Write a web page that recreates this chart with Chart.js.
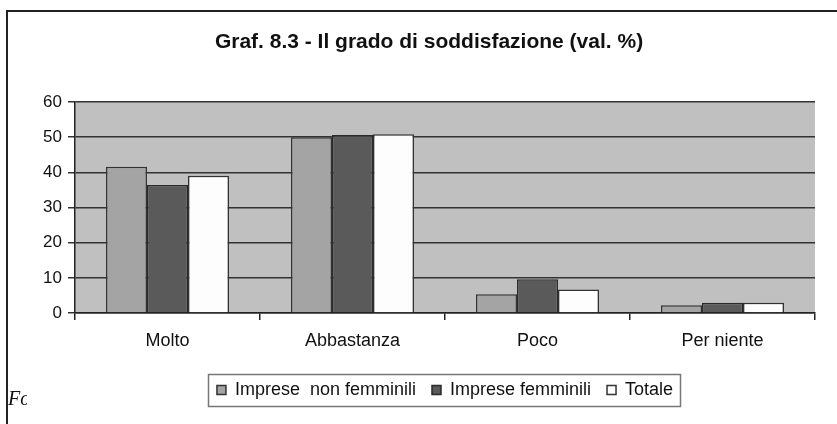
<!DOCTYPE html>
<html>
<head>
<meta charset="utf-8">
<script src="https://cdn.jsdelivr.net/npm/chart.js@4.4.1/dist/chart.umd.min.js"></script>
<style>
  html, body { margin: 0; padding: 0; background: #fff; overflow: hidden; }
  #wrap { position: relative; width: 837px; height: 424px; }
  #frame { position: absolute; left: 6px; top: 10px; width: 900px; height: 500px;
           border-left: 2px solid #222; border-top: 2px solid #222; }
  #chart { position: absolute; left: 0; top: 0; }
  #fonte { position: absolute; left: 8px; top: 387px; width: 19px; overflow: hidden;
           white-space: nowrap; font: italic 20px "Liberation Serif", serif; color: #111; }
</style>
</head>
<body>
<div id="wrap">
  <div id="frame"></div>
  <canvas id="chart" width="837" height="424"></canvas>
  <div id="fonte">Fonte: indagine</div>
</div>
<script>
// categories and values
var categories = ['Molto', 'Abbastanza', 'Poco', 'Per niente'];
var seriesNames = ['Imprese  non femminili', 'Imprese femminili', 'Totale'];
var nonFemminili = [41.6, 50.0, 5.3, 2.2];
var femminili = [36.4, 50.6, 9.6, 2.9];
var totale = [39.0, 50.8, 6.7, 2.9];
var yMax = 60;
var yStep = 10;

var FONT = "'Liberation Sans', Arial, sans-serif";

// grey plot background
var plotBg = {
  id: 'plotBg',
  beforeDraw: function(chart) {
    var a = chart.chartArea, ctx = chart.ctx;
    ctx.save();
    ctx.fillStyle = '#c0c0c0';
    ctx.fillRect(a.left, a.top, a.right - a.left, a.bottom - a.top);
    ctx.restore();
  }
};

// frame round the legend
var legendFrame = {
  id: 'legendFrame',
  afterDraw: function(chart) {
    var boxes = chart.legend.legendHitBoxes;
    if (!boxes || !boxes.length) return;
    var l = boxes[0].left, r = 0, t = boxes[0].top, b = 0;
    for (var i = 0; i < boxes.length; i++) {
      l = Math.min(l, boxes[i].left);
      r = Math.max(r, boxes[i].left + boxes[i].width);
      b = Math.max(b, boxes[i].top + boxes[i].height);
    }
    var ctx = chart.ctx;
    ctx.save();
    ctx.strokeStyle = '#777';
    ctx.lineWidth = 1.5;
    ctx.strokeRect(Math.round(l - 9) + 0.5, Math.round(t - 7) + 0.5,
                   Math.round(r - l + 16), Math.round(b - t + 14));
    ctx.restore();
  }
};

var ctx = document.getElementById('chart').getContext('2d');
new Chart(ctx, {
  type: 'bar',
  data: {
    labels: categories,
    datasets: [{
      label: seriesNames[0],
      data: nonFemminili,
      backgroundColor: '#a4a4a4',
      borderColor: '#333',
      borderWidth: 1.5
    }, {
      label: seriesNames[1],
      data: femminili,
      backgroundColor: '#5a5a5a',
      borderColor: '#2a2a2a',
      borderWidth: 1.5
    }, {
      label: seriesNames[2],
      data: totale,
      backgroundColor: '#fdfdfd',
      borderColor: '#333',
      borderWidth: 1.5
    }]
  },
  options: {
    responsive: false,
    animation: false,
    events: [],
    categoryPercentage: 0.665,
    barPercentage: 1.0,
    layout: { padding: { left: 43, right: 22, top: 30, bottom: 15 } },
    plugins: {
      title: {
        display: true,
        text: 'Graf. 8.3 - Il grado di soddisfazione (val. %)',
        color: '#111',
        font: { family: FONT, size: 21, weight: 'bold' },
        padding: { top: 0, bottom: 46.8 }
      },
      legend: {
        position: 'bottom',
        fullSize: false,
        labels: {
          color: '#111',
          font: { family: FONT, size: 18 },
          boxWidth: 9,
          boxHeight: 9,
          padding: 16
        }
      },
      tooltip: { enabled: false }
    },
    scales: {
      x: {
        grid: { drawOnChartArea: false, drawTicks: true, tickLength: 7, color: '#222', lineWidth: 1.5 },
        border: { display: true, color: '#222', width: 1.5 },
        ticks: { color: '#111', font: { family: FONT, size: 18 }, padding: 10 },
        afterFit: function(scale) { scale.height = 52; }
      },
      y: {
        min: 0,
        max: yMax,
        ticks: { stepSize: yStep, color: '#111', font: { family: FONT, size: 17 }, padding: 6 },
        grid: { color: '#333', lineWidth: 1.5, tickLength: 7 },
        border: { display: true, color: '#222', width: 1.5 },
        afterFit: function(scale) { scale.width = 32; }
      }
    }
  },
  plugins: [plotBg, legendFrame]
});
</script>
</body>
</html>
